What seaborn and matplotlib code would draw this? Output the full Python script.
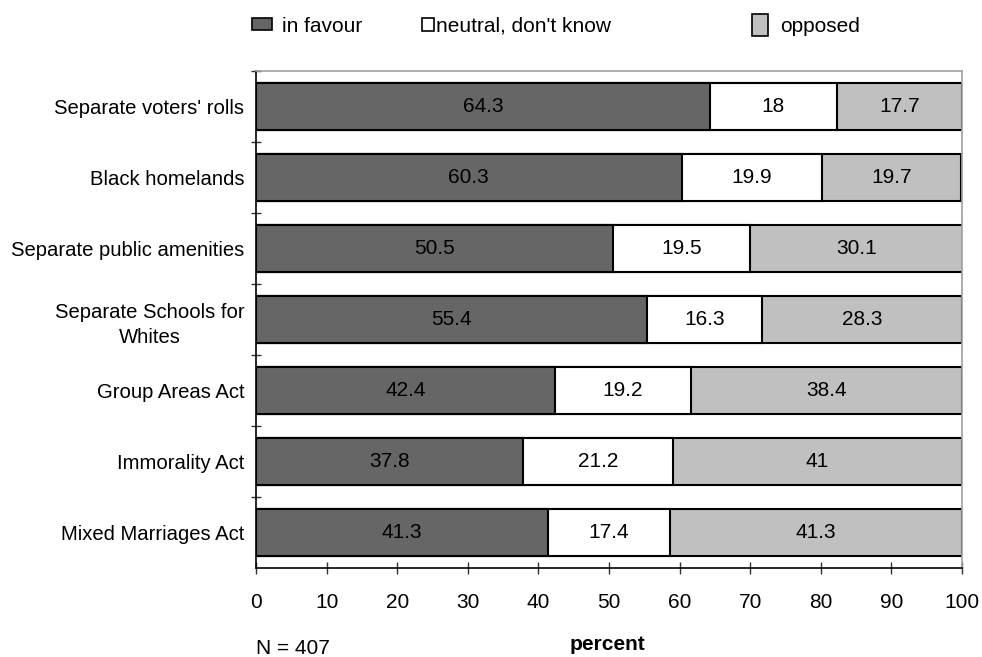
import matplotlib
matplotlib.use("Agg")
import matplotlib.pyplot as plt
import seaborn as sns
import pandas as pd
import numpy as np
from matplotlib.ticker import FixedLocator
from matplotlib.patches import Patch

categories = ["Separate voters' rolls", "Black homelands", "Separate public amenities",
              "Separate Schools for\nWhites", "Group Areas Act", "Immorality Act",
              "Mixed Marriages Act"]
in_favour = [64.3, 60.3, 50.5, 55.4, 42.4, 37.8, 41.3]
neutral = [18, 19.9, 19.5, 16.3, 19.2, 21.2, 17.4]
opposed = [17.7, 19.7, 30.1, 28.3, 38.4, 41, 41.3]
series_names = ["in favour", "neutral, don't know", "opposed"]
x_ticks = [0, 10, 20, 30, 40, 50, 60, 70, 80, 90, 100]

sns.set_theme(style="white")
plt.rcParams['font.family'] = ['Liberation Sans', 'DejaVu Sans']
plt.rcParams['text.color'] = 'black'
plt.rcParams['xtick.labelcolor'] = 'black'
plt.rcParams['ytick.labelcolor'] = 'black'

df = pd.DataFrame({"category": categories, "in favour": in_favour,
                   "neutral": neutral, "opposed": opposed})
df["cum1"] = df["in favour"]
df["cum2"] = df["in favour"] + df["neutral"]
df["cum3"] = df["cum2"] + df["opposed"]

fig = plt.figure(figsize=(9.82, 6.57), dpi=100)
ax = fig.add_axes([256/982, 1-568/657, (962-256)/982, (568-71)/657])

colors = ["#666666", "#ffffff", "#c0c0c0"]
w = 0.676
sns.barplot(data=df, y="category", x="cum3", color=colors[2], edgecolor="black",
            linewidth=1.5, width=w, ax=ax, saturation=1, orient="h")
sns.barplot(data=df, y="category", x="cum2", color=colors[1], edgecolor="black",
            linewidth=1.5, width=w, ax=ax, saturation=1, orient="h")
sns.barplot(data=df, y="category", x="cum1", color=colors[0], edgecolor="black",
            linewidth=1.5, width=w, ax=ax, saturation=1, orient="h")

fs = 15
for i in range(len(categories)):
    starts = [0, df["cum1"][i], df["cum2"][i]]
    vals = [in_favour[i], neutral[i], opposed[i]]
    for s, v in zip(starts, vals):
        ax.text(s + v/2, i, f"{v:g}", ha="center", va="center", fontsize=fs, color="black")

ax.set_xlim(0, 100)
ax.set_ylim(6.5, -0.5)
ax.set_xticks(x_ticks)
ax.set_xticklabels([str(t) for t in x_ticks], fontsize=fs)
ax.set_yticks(range(len(categories)))
ax.set_yticklabels(categories, fontsize=14.6)
for lbl in ax.get_yticklabels():
    lbl.set_multialignment("center")
    lbl.set_linespacing(1.45)
ax.yaxis.set_minor_locator(FixedLocator(np.arange(-0.5, 6.0, 1.0)))
ax.tick_params(axis="y", which="major", length=0, pad=8.5)
ax.tick_params(axis="y", which="minor", length=7.5, direction="inout", color="#333333", width=1, left=True)
ax.tick_params(axis="x", which="major", length=8.5, direction="inout", color="#333333", width=1, pad=14, bottom=True)
ax.set_xlabel("")
ax.set_ylabel("")
for side in ["left", "bottom"]:
    ax.spines[side].set_color("black")
    ax.spines[side].set_linewidth(1.2)
for side in ["top", "right"]:
    ax.spines[side].set_color("#a0a0a0")
    ax.spines[side].set_linewidth(1.2)

fig.text(256/982, 1-648/657, "N = 407", fontsize=fs, ha="left", va="center")
fig.text(607/982, 1-645/657, "percent", fontsize=fs, ha="center", va="center", fontweight="bold")

lfs = 15
handle_sizes = [(0.96, 0.48), (0.58, 0.58), (0.77, 1.2)]
positions = [(252/982, 1-26/657), (422/982, 1-26/657), (752/982, 1-25/657)]
pads = [0.48, 0.1, 0.58]
for c, name, pos, (hl, hh), tp in zip(colors, series_names, positions, handle_sizes, pads):
    h = Patch(facecolor=c, edgecolor="black", linewidth=1.2)
    fig.legend(handles=[h], labels=[name], loc="center left", bbox_to_anchor=pos,
               frameon=False, handlelength=hl, handleheight=hh, fontsize=lfs,
               handletextpad=tp, borderpad=0, borderaxespad=0)

fig.savefig("out.png", dpi=100)
